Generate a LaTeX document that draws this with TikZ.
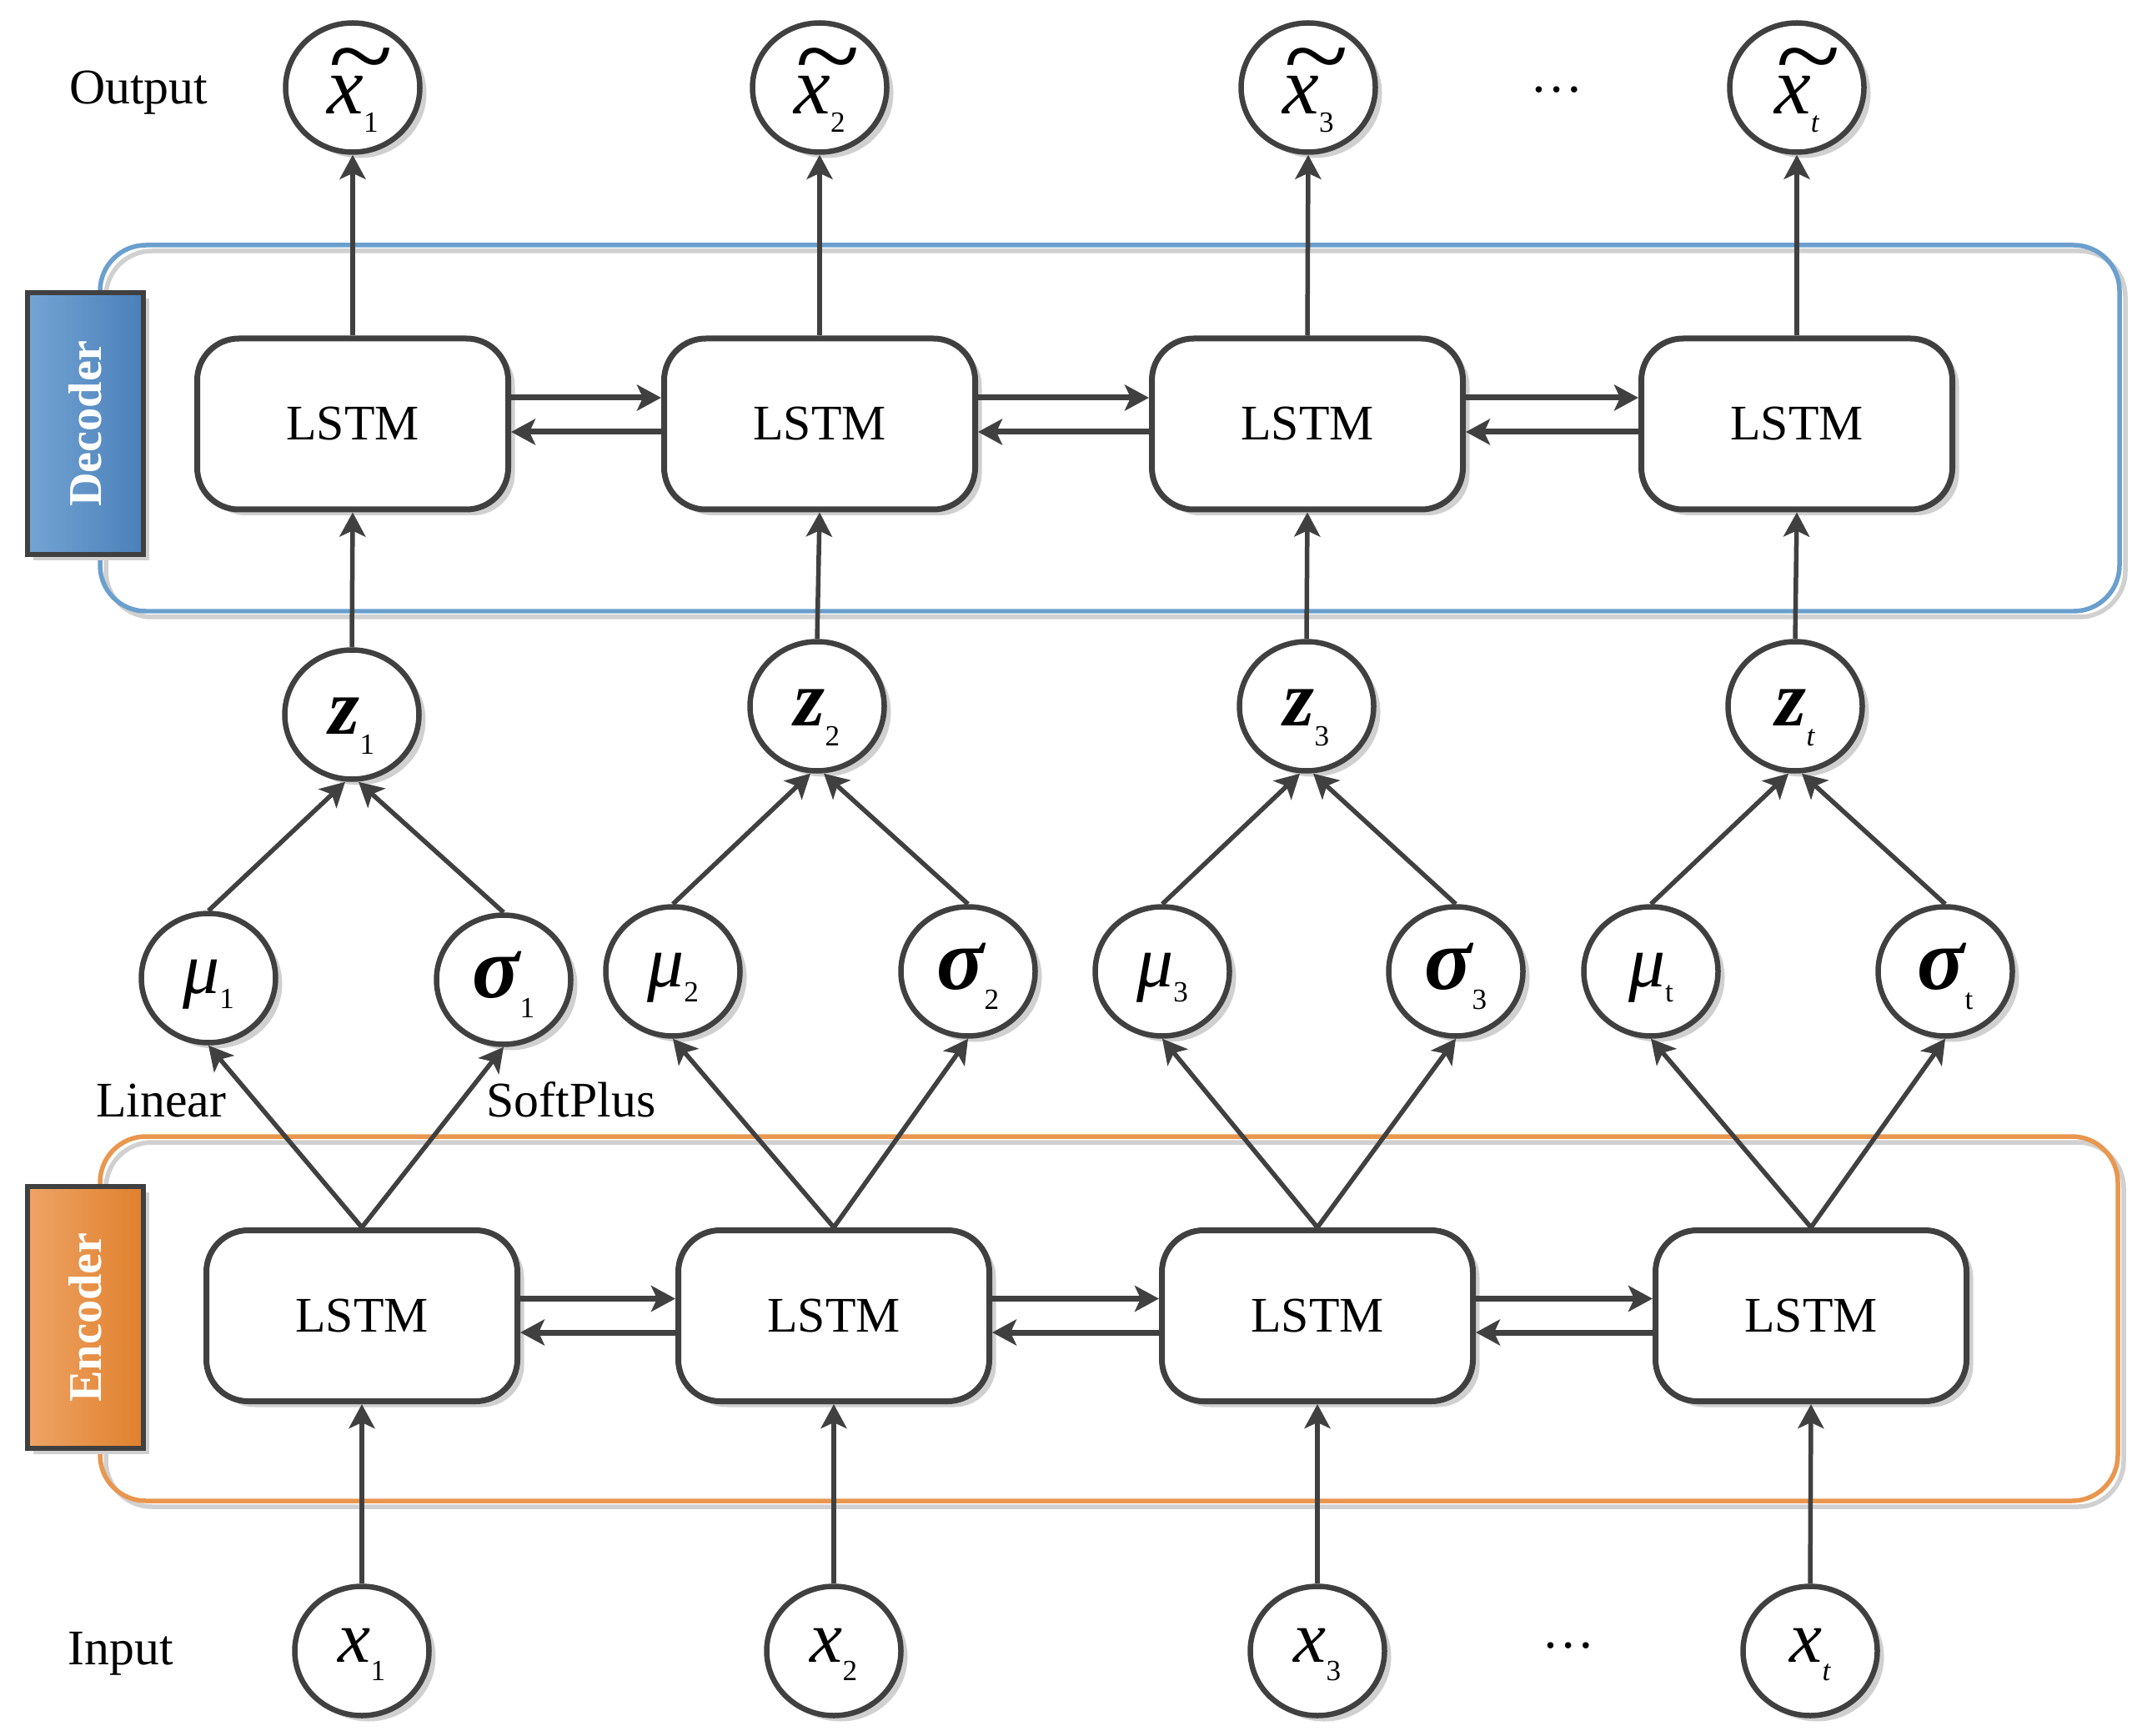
\documentclass[tikz,border=0pt]{standalone}
\usepackage{graphicx}
\usepackage{fontspec}
\setmainfont{Liberation Serif}
\usetikzlibrary{shapes.geometric,shadows,arrows.meta}
\definecolor{dk}{HTML}{404040}
\definecolor{decblue}{HTML}{6A9FCE}
\definecolor{encor}{HTML}{E9964F}
\definecolor{bla}{HTML}{74A4D4}
\definecolor{blb}{HTML}{4A80B9}
\definecolor{ora}{HTML}{EEA466}
\definecolor{orb}{HTML}{E0802C}
\definecolor{shd}{HTML}{D0D0D0}
\newcommand{\fs}[1]{\fontsize{#1}{#1}\selectfont}
\newcommand{\subx}[2]{\raisebox{-#2}{\fs{10}\upshape\mdseries #1}}
\newcommand{\subit}[2]{\raisebox{-#2}{\fs{10}\itshape\mdseries #1}}
\newcommand{\tilx}{\makebox[0pt][l]{\hspace{0.0em}\raisebox{0.29em}{\scalebox{1.45}[1.25]{\char"7E}}}x}
\tikzset{
  vnode/.style={ellipse, draw=dk, line width=0.065cm, fill=white,
    minimum width=1.61cm, minimum height=1.55cm, inner sep=0pt,
    drop shadow={shadow xshift=0.08cm, shadow yshift=-0.07cm, fill=shd, opacity=1}},
  otx/.style={vnode, font=\fs{28}\itshape, text height=18.2pt, text depth=0pt},
  inx/.style={vnode, font=\fs{25}\itshape, text height=7.4pt, text depth=0pt},
  zst/.style={vnode, font=\fs{27}\bfseries\itshape, text height=13.1pt, text depth=0pt},
  must/.style={vnode, font=\fs{25}\itshape, text height=10.8pt, text depth=0pt},
  sgst/.style={vnode, font=\fs{30}\bfseries\itshape, text height=12pt, text depth=0pt},
  lstm/.style={rectangle, rounded corners=0.5cm, draw=dk, line width=0.07cm, fill=white,
    minimum width=3.73cm, minimum height=2.05cm, inner sep=0pt, font=\fs{17},
    drop shadow={shadow xshift=0.08cm, shadow yshift=-0.07cm, fill=shd, opacity=1}},
  conn/.style={draw=dk, line width=0.055cm, -{Stealth[length=0.29cm,width=0.31cm,inset=0.07cm]}},
  hconn/.style={conn, line width=0.07cm},
  lab/.style={font=\fs{17}, anchor=base, inner sep=0pt},
  tagbox/.style={rectangle, draw=dk, line width=0.065cm, minimum width=1.39cm,
    minimum height=3.14cm, inner sep=0pt, text=white, font=\fs{16}\bfseries,
    drop shadow={shadow xshift=0.07cm, shadow yshift=-0.07cm, fill=shd, opacity=1}},
  contline/.style={line width=0.055cm, rounded corners=0.55cm}
}
\begin{document}
\begin{tikzpicture}[x=1cm,y=-1cm]
\useasboundingbox (0,0) rectangle (25.75,20.82);
% containers
\draw[contline, shd] (1.27,3.01) rectangle (25.49,7.40);
\draw[contline, decblue] (1.20,2.94) rectangle (25.42,7.33);
\draw[contline, shd] (1.27,13.70) rectangle (25.47,18.07);
\draw[contline, encor] (1.20,13.63) rectangle (25.40,18.00);
% tags
\node[tagbox, left color=bla, right color=blb] (dtag) at (1.025,5.08) {\rotatebox{90}{Decoder}};
\node[tagbox, left color=ora, right color=orb] (etag) at (1.025,15.80) {\rotatebox{90}{Encoder}};
% labels
\node[lab] (outl) at (1.66,1.25) {Output};
\node[lab] (inl) at (1.45,19.96) {Input};
\node[lab] (linl) at (1.93,13.39) {Linear};
\node[lab] (spl) at (6.85,13.39) {SoftPlus};
\node[lab, font=\fs{18}] (dots1) at (18.67,1.11) {…};
\node[lab, font=\fs{18}] (dots2) at (18.81,19.76) {…};
% output nodes
\node[otx] (o1) at (4.23,1.05) {\tilx\subx{1}{6pt}};
\node[otx] (o2) at (9.83,1.05) {\tilx\subx{2}{6pt}};
\node[otx] (o3) at (15.69,1.05) {\tilx\subx{3}{6pt}};
\node[otx] (o4) at (21.55,1.05) {\tilx\subit{t}{6pt}};
% decoder LSTMs
\node[lstm] (d1) at (4.23,5.085) {LSTM};
\node[lstm] (d2) at (9.83,5.085) {LSTM};
\node[lstm] (d3) at (15.68,5.085) {LSTM};
\node[lstm] (d4) at (21.55,5.085) {LSTM};
% z nodes
\node[zst] (z1) at (4.22,8.57) {z\subx{1}{7pt}};
\node[zst] (z2) at (9.80,8.47) {z\subx{2}{7pt}};
\node[zst] (z3) at (15.67,8.47) {z\subx{3}{7pt}};
\node[zst] (z4) at (21.53,8.47) {z\subit{t}{7pt}};
% mu and sigma
\node[must] (m1) at (2.50,11.73) {μ\subx{1}{5pt}};
\node[must] (m2) at (8.07,11.65) {μ\subx{2}{5pt}};
\node[must] (m3) at (13.94,11.65) {μ\subx{3}{5pt}};
\node[must] (m4) at (19.80,11.65) {μ\subx{t}{5pt}};
\node[sgst] (s1) at (6.04,11.75) {σ\subx{1}{7pt}};
\node[sgst] (s2) at (11.61,11.65) {σ\subx{2}{7pt}};
\node[sgst] (s3) at (17.46,11.65) {σ\subx{3}{7pt}};
\node[sgst] (s4) at (23.33,11.65) {σ\subx{t}{7pt}};
% encoder LSTMs
\node[lstm] (e1) at (4.34,15.78) {LSTM};
\node[lstm] (e2) at (10.00,15.78) {LSTM};
\node[lstm] (e3) at (15.80,15.78) {LSTM};
\node[lstm] (e4) at (21.72,15.78) {LSTM};
% inputs
\node[inx] (x1) at (4.34,19.80) {x\subx{1}{6.3pt}};
\node[inx] (x2) at (10.00,19.80) {x\subx{2}{6.3pt}};
\node[inx] (x3) at (15.80,19.80) {x\subx{3}{6.3pt}};
\node[inx] (x4) at (21.71,19.80) {x\subit{t}{6.3pt}};
% connectors
\foreach \i in {1,2,3,4}{
  \draw[conn] (x\i.north) -- (e\i.south);
  \draw[conn] (e\i.north) -- (m\i.south);
  \draw[conn] (e\i.north) -- (s\i.south);
  \draw[conn] (m\i.north) -- ([xshift=-0.08cm]z\i.south);
  \draw[conn] (s\i.north) -- ([xshift=0.08cm]z\i.south);
  \draw[conn] (z\i.north) -- (d\i.south);
  \draw[conn] (d\i.north) -- (o\i.south);
}
\foreach \i in {1,2,3}{
  \pgfmathtruncatemacro{\j}{\i+1}
  \draw[hconn] ([yshift=0.315cm]d\i.east) -- ([yshift=0.315cm]d\j.west);
  \draw[hconn] ([yshift=-0.095cm]d\j.west) -- ([yshift=-0.095cm]d\i.east);
  \draw[hconn] ([yshift=0.205cm]e\i.east) -- ([yshift=0.205cm]e\j.west);
  \draw[hconn] ([yshift=-0.2cm]e\j.west) -- ([yshift=-0.2cm]e\i.east);
}
\end{tikzpicture}
\end{document}
